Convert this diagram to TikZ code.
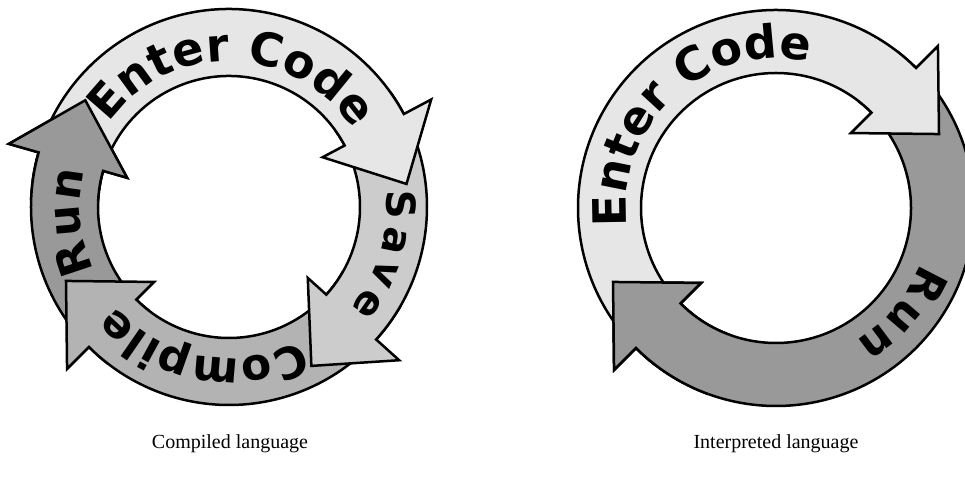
\documentclass[tikz,border=0pt]{standalone}
\usepackage{fontspec}
\usetikzlibrary{decorations.text}
\newfontfamily\ringfont{DejaVu Sans}
\newfontfamily\captionfont{Liberation Serif}
\definecolor{entercol}{HTML}{E6E6E6}
\definecolor{savecol}{HTML}{CCCCCC}
\definecolor{compilecol}{HTML}{B3B3B3}
\definecolor{runcol}{HTML}{999999}
\newcommand{\cyclearrow}[4]{\filldraw[band, fill=#3] (#1:198) arc[start angle=#1, end angle=#2, radius=198]
	-- (#2:229) -- ({#2-20.6}:179) -- (#2:106) -- (#2:#4)
	arc[start angle=#2, end angle=#1, radius=#4] -- cycle;}
\newcommand{\ringtext}[5][44]{\path[decorate, decoration={text along path, text align=fit to path,
	text={|\ringfont\bfseries\fontsize{#1}{#1}\selectfont|#5}}] (#2:#4) arc[start angle=#2, end angle=#3, radius=#4];}
\begin{document}
\begin{tikzpicture}[x=1pt,y=1pt,
	band/.style={draw, line width=2.5pt, line join=miter},
	langlabel/.style={font=\captionfont\fontsize{20}{24}\selectfont}]
	\useasboundingbox (0,0) rectangle (965,481);
	\begin{scope}[shift={(229,274)}]
		\cyclearrow{232}{164}{runcol}{131}
		\cyclearrow{-30}{-135}{compilecol}{131}
		\cyclearrow{35}{-42}{savecol}{131}
		\cyclearrow{172}{28}{entercol}{131}
		\begin{scope}
			\clip (0,0) -- (178:260) arc[start angle=178, end angle=120, radius=260] -- cycle;
			\cyclearrow{232}{164}{runcol}{131}
		\end{scope}
		\ringtext[46]{145}{32}{146}{Enter Code}
		\ringtext[40]{6}{-40}{158}{Save}
		\ringtext{-62}{-139}{151}{Compile}
		\ringtext{205}{166}{149}{Run}
	\end{scope}
	\begin{scope}[shift={(776,273)}]
		\cyclearrow{52}{-135}{runcol}{135}
		\cyclearrow{232}{45}{entercol}{135}
		\begin{scope}
			\clip (0,0) -- (250:260) arc[start angle=250, end angle=195, radius=260] -- cycle;
			\cyclearrow{52}{-135}{runcol}{135}
		\end{scope}
		\ringtext[46]{187}{77}{150}{Enter Code}
		\ringtext{-21}{-59}{155}{Run}
	\end{scope}
	\node[langlabel] (compiledlbl) at (230,37) {Compiled language};
	\node[langlabel] (interpretedlbl) at (776,37) {Interpreted language};
\end{tikzpicture}
\end{document}
